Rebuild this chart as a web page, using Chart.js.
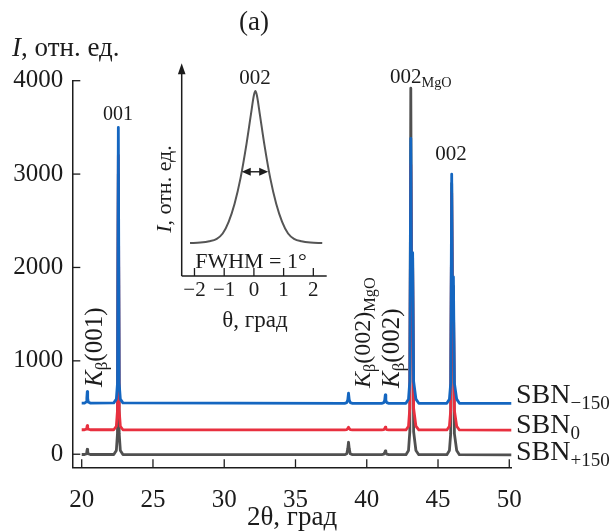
<!DOCTYPE html>
<html>
<head>
<meta charset="utf-8">
<script src="https://cdn.jsdelivr.net/npm/chart.js@4.4.1/dist/chart.umd.min.js"></script>
<style>
  html, body { margin: 0; padding: 0; background: #fff; }
  #wrap { position: relative; width: 611px; height: 531px; }
  canvas { position: absolute; left: 0; top: 0; }
</style>
</head>
<body>
<div id="wrap">
  <canvas id="main" width="611" height="531"></canvas>
  <canvas id="inset" width="611" height="531"></canvas>
</div>
<script>
// 2θ scan, shared by the three curves
const twoTheta = [
  20.00, 20.20, 20.32, 20.36, 20.39, 20.42, 20.46, 20.60,
  22.25, 22.43, 22.51, 22.57, 22.63, 22.71, 22.89,
  38.45, 38.60, 38.67, 38.72, 38.77, 38.84, 39.00,
  41.05, 41.20, 41.26, 41.30, 41.34, 41.40, 41.55,
  42.75, 42.93, 43.02, 43.09, 43.15, 43.22, 43.29, 43.45, 43.65,
  45.62, 45.80, 45.89, 45.96, 46.02, 46.08, 46.15, 46.31, 46.50,
  50.15
];
// SBN-150 (blue)
const iSBNm150 = [
  548, 548, 560, 600, 670, 600, 560, 548,
  550, 590, 760, 3500, 760, 590, 550,
  545, 552, 585, 653, 585, 552, 545,
  545, 552, 580, 635, 580, 552, 545,
  545, 590, 780, 3383, 1700, 2158, 780, 590, 545,
  545, 590, 760, 2998, 1500, 1900, 760, 590, 545,
  545
];
// SBN0 (red)
const iSBN0 = [
  262, 262, 268, 285, 306, 285, 268, 262,
  262, 300, 470, 3200, 470, 300, 262,
  260, 263, 275, 289, 275, 263, 260,
  260, 263, 275, 289, 275, 263, 260,
  260, 300, 490, 3100, 1500, 2000, 490, 300, 260,
  260, 300, 470, 2800, 1400, 1700, 470, 300, 260,
  258
];
// SBN+150 (grey)
const iSBNp150 = [
  -3, -3, 5, 30, 53, 30, 5, -3,
  -3, 40, 220, 3000, 220, 40, -3,
  -5, 5, 60, 128, 60, 5, -5,
  -5, 0, 20, 35, 20, 0, -5,
  -5, 40, 240, 3919, 1600, 2100, 240, 40, -5,
  -5, 40, 220, 2900, 1400, 1800, 220, 40, -5,
  -8
];
const xTicks = [20, 25, 30, 35, 40, 45, 50];
const yTicks = [0, 1000, 2000, 3000, 4000];

// inset: rocking curve of the 002 reflection
const thetaInset = [-2.15, -1.8, -1.5, -1.25, -1.05, -0.85, -0.65, -0.45, -0.25, -0.1, 0.0, 0.05, 0.1, 0.2, 0.35, 0.55, 0.75, 0.95, 1.15, 1.35, 1.6, 1.9, 2.3];
const iInset = [0.155, 0.157, 0.163, 0.175, 0.20, 0.255, 0.34, 0.46, 0.62, 0.76, 0.85, 0.87, 0.85, 0.76, 0.62, 0.46, 0.34, 0.255, 0.20, 0.175, 0.163, 0.157, 0.155];
const insetTicks = [-2, -1, 0, 1, 2];

const SERIF = "'Liberation Serif', 'Times New Roman', serif";
const INK = '#1c1c1c';

function pts(xs, ys) { return xs.map((x, i) => ({ x: x, y: ys[i] })); }

// text made of pieces (italic / subscript), y is the baseline
function rich(ctx, parts, x, y, size, align, rot) {
  ctx.save();
  ctx.translate(x, y);
  if (rot) ctx.rotate(rot);
  const fontOf = p => (p.it ? 'italic ' : '') + (p.sub ? size * 0.68 : size) + 'px ' + SERIF;
  let w = 0;
  parts.forEach(p => { ctx.font = fontOf(p); p.w = ctx.measureText(p.t).width; w += p.w; });
  let cx = align === 'center' ? -w / 2 : align === 'right' ? -w : 0;
  ctx.textBaseline = 'alphabetic';
  ctx.textAlign = 'left';
  ctx.fillStyle = INK;
  parts.forEach(p => {
    ctx.font = fontOf(p);
    ctx.fillText(p.t, cx, p.sub ? size * 0.2 : 0);
    cx += p.w;
  });
  ctx.restore();
}

function seg(ctx, x1, y1, x2, y2) {
  ctx.beginPath(); ctx.moveTo(x1, y1); ctx.lineTo(x2, y2); ctx.stroke();
}

const mainDecor = {
  id: 'mainDecor',
  afterDraw(chart) {
    const ctx = chart.ctx, a = chart.chartArea;
    const xs = chart.scales.x, ys = chart.scales.y;
    ctx.save();
    ctx.strokeStyle = INK;
    ctx.lineWidth = 1.3;
    xTicks.forEach(v => { const p = xs.getPixelForValue(v); seg(ctx, p, a.bottom, p, a.bottom - 8); });
    yTicks.forEach(v => { const p = ys.getPixelForValue(v); seg(ctx, a.left, p, a.left + 8, p); });
    ctx.restore();

    const up = -Math.PI / 2;
    rich(ctx, [{ t: '(a)' }], 254, 30, 27, 'center');
    rich(ctx, [{ t: 'I', it: true }, { t: ', отн. ед.' }], 12, 56, 27, 'left');
    rich(ctx, [{ t: '2θ, град' }], 292, 525, 27, 'center');

    rich(ctx, [{ t: '001' }], 118, 120, 20, 'center');
    rich(ctx, [{ t: '002' }, { t: 'MgO', sub: true }], 390, 83, 21, 'left');
    rich(ctx, [{ t: '002' }], 451, 160, 21, 'center');

    rich(ctx, [{ t: 'K', it: true }, { t: 'β', sub: true }, { t: '(001)' }], 102, 387, 25, 'left', up);
    rich(ctx, [{ t: 'K', it: true }, { t: 'β', sub: true }, { t: '(002)' }, { t: 'MgO', sub: true }], 370, 388, 24, 'left', up);
    rich(ctx, [{ t: 'K', it: true }, { t: 'β', sub: true }, { t: '(002)' }], 399, 388, 25, 'left', up);

    rich(ctx, [{ t: 'SBN' }, { t: '−150', sub: true }], 516, 403, 28, 'left');
    rich(ctx, [{ t: 'SBN' }, { t: '0', sub: true }], 516, 433, 28, 'left');
    rich(ctx, [{ t: 'SBN' }, { t: '+150', sub: true }], 516, 460, 28, 'left');
  }
};

new Chart(document.getElementById('main'), {
  type: 'line',
  data: {
    datasets: [
      { label: 'SBN−150', data: pts(twoTheta, iSBNm150), borderColor: '#1466c0' },
      { label: 'SBN0', data: pts(twoTheta, iSBN0), borderColor: '#e8303f' },
      { label: 'SBN+150', data: pts(twoTheta, iSBNp150), borderColor: '#505050' }
    ]
  },
  options: {
    responsive: false,
    animation: false,
    devicePixelRatio: 1,
    layout: { padding: { left: 0, top: 80.7, right: 99.3, bottom: 0 } },
    elements: {
      point: { radius: 0 },
      line: { borderWidth: 2.8, tension: 0, borderJoinStyle: 'round' }
    },
    plugins: { legend: { display: false }, tooltip: { enabled: false } },
    scales: {
      x: {
        type: 'linear', min: 19.34, max: 50.17,
        grid: { display: false },
        border: { display: true, color: INK, width: 1.5 },
        afterBuildTicks: s => { s.ticks = xTicks.map(v => ({ value: v })); },
        afterFit: s => { s.height = 63.7; },
        ticks: { padding: 10, maxRotation: 0, autoSkip: false, color: INK,
                 font: { family: SERIF, size: 25 }, callback: v => String(v) }
      },
      y: {
        type: 'linear', min: -140, max: 4000,
        grid: { display: false },
        border: { display: true, color: INK, width: 1.5 },
        afterBuildTicks: s => { s.ticks = yTicks.map(v => ({ value: v })); },
        afterFit: s => { s.width = 72.3; },
        ticks: { padding: 1, color: INK, font: { family: SERIF, size: 25 }, callback: v => String(v) }
      }
    }
  },
  plugins: [mainDecor]
});

const insetDecor = {
  id: 'insetDecor',
  afterDraw(chart) {
    const ctx = chart.ctx, a = chart.chartArea;
    const xs = chart.scales.x, ys = chart.scales.y;
    ctx.save();
    ctx.strokeStyle = INK;
    ctx.fillStyle = INK;
    ctx.lineWidth = 1.5;
    seg(ctx, a.left, a.bottom, a.right, a.bottom);
    seg(ctx, a.left, a.bottom, a.left, a.top + 6);
    ctx.beginPath();
    ctx.moveTo(a.left, a.top);
    ctx.lineTo(a.left - 3.8, a.top + 11);
    ctx.lineTo(a.left + 3.8, a.top + 11);
    ctx.closePath();
    ctx.fill();
    ctx.lineWidth = 1.3;
    insetTicks.forEach(v => { const p = xs.getPixelForValue(v); seg(ctx, p, a.bottom, p, a.bottom - 8); });

    // FWHM double arrow
    const x1 = xs.getPixelForValue(-0.41), x2 = xs.getPixelForValue(0.48), y = ys.getPixelForValue(0.49);
    ctx.lineWidth = 1.4;
    seg(ctx, x1 + 4, y, x2 - 4, y);
    ctx.beginPath();
    ctx.moveTo(x1, y); ctx.lineTo(x1 + 9, y - 4); ctx.lineTo(x1 + 9, y + 4); ctx.closePath(); ctx.fill();
    ctx.beginPath();
    ctx.moveTo(x2, y); ctx.lineTo(x2 - 9, y - 4); ctx.lineTo(x2 - 9, y + 4); ctx.closePath(); ctx.fill();
    ctx.restore();

    insetTicks.forEach(v => {
      const label = v < 0 ? '−' + Math.abs(v) : String(v);
      rich(ctx, [{ t: label }], xs.getPixelForValue(v), 296, 21, 'center');
    });
    rich(ctx, [{ t: 'θ, град' }], 255, 327, 23, 'center');
    rich(ctx, [{ t: '002' }], 255, 84, 21, 'center');
    rich(ctx, [{ t: 'FWHM = 1°' }], 251, 268, 22, 'center');
    rich(ctx, [{ t: 'I', it: true }, { t: ', отн. ед.' }], 171, 189, 22, 'center', -Math.PI / 2);
  }
};

new Chart(document.getElementById('inset'), {
  type: 'line',
  data: {
    datasets: [{
      data: pts(thetaInset, iInset),
      borderColor: '#555555', borderWidth: 2, pointRadius: 0,
      cubicInterpolationMode: 'monotone'
    }]
  },
  options: {
    responsive: false,
    animation: false,
    devicePixelRatio: 1,
    layout: { padding: { left: 181.7, top: 63.3, right: 284.3, bottom: 255 } },
    plugins: { legend: { display: false }, tooltip: { enabled: false } },
    scales: {
      x: { type: 'linear', display: false, min: -2.43, max: 2.45 },
      y: { type: 'linear', display: false, min: 0, max: 1 }
    }
  },
  plugins: [insetDecor]
});
</script>
</body>
</html>
